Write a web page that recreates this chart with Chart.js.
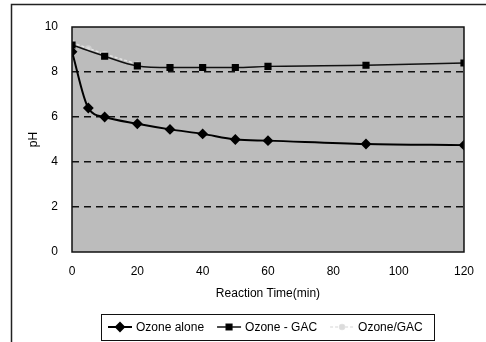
<!DOCTYPE html>
<html>
<head>
<meta charset="utf-8">
<script src="https://cdn.jsdelivr.net/npm/chart.js@4"></script>
<style>
  html, body { margin: 0; padding: 0; background: #fff; }
  #wrap { width: 486px; height: 342px; position: relative; }
</style>
</head>
<body>
<div id="wrap"><canvas id="phChart" width="486" height="342"></canvas></div>
<script>
const FONT = '"Liberation Sans", Arial, sans-serif';

// data
const timeAlone = [0, 5, 10, 20, 30, 40, 50, 60, 90, 120];
const phAlone = [8.9, 6.4, 6.0, 5.7, 5.45, 5.25, 5.0, 4.95, 4.8, 4.75];
const timeGac = [0, 10, 20, 30, 40, 50, 60, 90, 120];
const phGac = [9.2, 8.7, 8.27, 8.2, 8.2, 8.2, 8.25, 8.3, 8.4];
const timeSlash = [0, 5, 10, 20];
const phSlash = [9.3, 9.05, 8.8, 8.35];
const seriesNames = ['Ozone alone', 'Ozone - GAC', 'Ozone/GAC'];
const yTicks = [0, 2, 4, 6, 8, 10];
const xTicks = [0, 20, 40, 60, 80, 100, 120];

const toPoints = (xs, ys) => xs.map((x, i) => ({ x: x, y: ys[i] }));

// background of plot + outer frame
const framePlugin = {
  id: 'frame',
  beforeDraw(chart) {
    const { ctx, chartArea: a } = chart;
    ctx.save();
    ctx.fillStyle = '#fff';
    ctx.fillRect(0, 0, chart.width, chart.height);
    ctx.strokeStyle = '#222';
    ctx.lineWidth = 1.5;
    ctx.beginPath();
    ctx.moveTo(11.5, 342);
    ctx.lineTo(11.5, 4.5);
    ctx.lineTo(486, 4.5);
    ctx.stroke();
    ctx.fillStyle = '#bcbcbc';
    ctx.fillRect(a.left, a.top, a.right - a.left, a.bottom - a.top);
    ctx.restore();
  },
  afterDatasetsDraw(chart) {
    const { ctx, chartArea: a } = chart;
    ctx.save();
    ctx.strokeStyle = '#111';
    ctx.lineWidth = 1.5;
    ctx.strokeRect(a.left, a.top, a.right - a.left, a.bottom - a.top);
    ctx.restore();
  }
};

// legend box with line + marker samples
const legendPlugin = {
  id: 'boxLegend',
  afterDraw(chart) {
    const { ctx } = chart;
    const boxL = 101, boxT = 314, boxR = 434, boxB = 340;
    const cy = (boxT + boxB) / 2;
    ctx.save();
    ctx.fillStyle = '#fff';
    ctx.fillRect(boxL, boxT, boxR - boxL, boxB - boxT);
    ctx.strokeStyle = '#111';
    ctx.lineWidth = 1;
    ctx.strokeRect(boxL + 0.5, boxT + 0.5, boxR - boxL, boxB - boxT);
    ctx.font = '12px ' + FONT;
    ctx.textBaseline = 'middle';
    let x = boxL + 7;
    chart.data.datasets.forEach((ds, i) => {
      const w = 24;
      ctx.strokeStyle = ds.borderColor;
      ctx.lineWidth = ds.borderWidth;
      ctx.setLineDash(ds.borderDash || []);
      ctx.beginPath();
      ctx.moveTo(x, cy);
      ctx.lineTo(x + w, cy);
      ctx.stroke();
      ctx.setLineDash([]);
      Chart.helpers.drawPoint(ctx, {
        pointStyle: ds.pointStyle,
        radius: ds.pointRadius,
        rotation: 0,
        borderWidth: 1
      }, x + w / 2, cy);
      ctx.fillStyle = ds.pointBackgroundColor;
      ctx.strokeStyle = ds.pointBorderColor;
      ctx.fill();
      ctx.fillStyle = '#000';
      ctx.fillText(ds.label, x + w + 4, cy + 1);
      x += w + 4 + ctx.measureText(ds.label).width + 13;
    });
    ctx.restore();
  }
};

new Chart(document.getElementById('phChart'), {
  type: 'line',
  data: {
    datasets: [
      {
        label: seriesNames[0],
        data: toPoints(timeAlone, phAlone),
        borderColor: '#000',
        borderWidth: 2,
        pointStyle: 'rectRot',
        pointRadius: 4,
        pointBackgroundColor: '#000',
        pointBorderColor: '#000',
        cubicInterpolationMode: 'monotone',
        order: 1
      },
      {
        label: seriesNames[1],
        data: toPoints(timeGac, phGac),
        borderColor: '#111',
        borderWidth: 1.5,
        pointStyle: 'rect',
        pointRadius: 4,
        pointBackgroundColor: '#000',
        pointBorderColor: '#000',
        cubicInterpolationMode: 'monotone',
        order: 2
      },
      {
        label: seriesNames[2],
        data: toPoints(timeSlash, phSlash),
        borderColor: '#e4e4e4',
        borderWidth: 1.5,
        borderDash: [3, 2],
        pointStyle: 'circle',
        pointRadius: 2.5,
        pointBackgroundColor: '#dcdcdc',
        pointBorderColor: '#cfcfcf',
        cubicInterpolationMode: 'monotone',
        order: 3
      }
    ]
  },
  options: {
    responsive: false,
    animation: false,
    layout: { padding: { left: 20, top: 27, right: 20, bottom: 35 } },
    plugins: {
      legend: { display: false },
      tooltip: { enabled: false }
    },
    scales: {
      x: {
        type: 'linear',
        min: 0,
        max: 120,
        afterFit: (s) => { s.height = 55; },
        afterBuildTicks: (s) => { s.ticks = xTicks.map(v => ({ value: v })); },
        grid: { display: false, drawTicks: false },
        border: { display: false },
        ticks: { padding: 12, color: '#000', font: { family: FONT, size: 12 }, maxRotation: 0 },
        title: {
          display: true,
          text: 'Reaction Time(min)',
          color: '#000',
          font: { family: FONT, size: 12 },
          padding: { top: 0, bottom: 6 }
        }
      },
      y: {
        min: 0,
        max: 10,
        afterFit: (s) => { s.width = 52; },
        afterBuildTicks: (s) => { s.ticks = yTicks.map(v => ({ value: v })); },
        grid: {
          drawTicks: false,
          color: (c) => (c.tick && (c.tick.value === 0 || c.tick.value === 10)) ? 'rgba(0,0,0,0)' : '#111',
          lineWidth: 1.5
        },
        border: { display: false, dash: [7, 5] },
        ticks: { padding: 14, color: '#000', font: { family: FONT, size: 12 } },
        title: {
          display: true,
          text: 'pH',
          color: '#000',
          font: { family: FONT, size: 12 },
          padding: { top: 6, bottom: 0 }
        }
      }
    }
  },
  plugins: [framePlugin, legendPlugin]
});
</script>
</body>
</html>
